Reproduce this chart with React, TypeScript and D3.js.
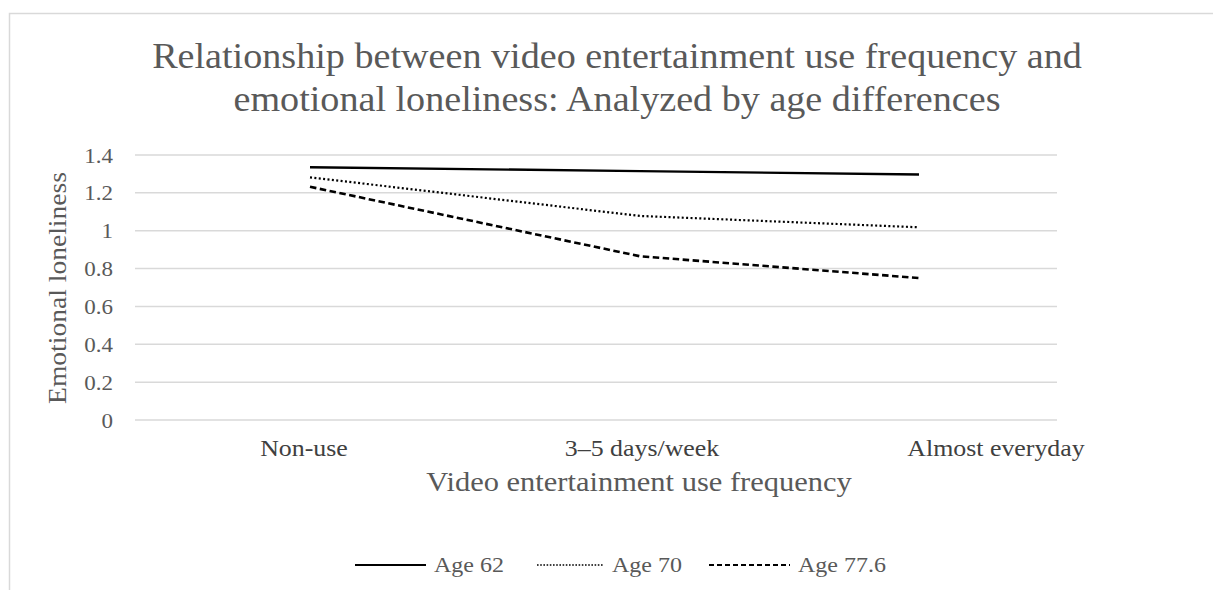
import React from "react";
import * as d3 from "d3";

const categories = ["Non-use", "3–5 days/week", "Almost everyday"];
const seriesNames = ["Age 62", "Age 70", "Age 77.6"];
const age62 = [1.335, 1.315, 1.297];
const age70 = [1.282, 1.078, 1.018];
const age776 = [1.232, 0.865, 0.75];
const yTicks = [0, 0.2, 0.4, 0.6, 0.8, 1, 1.2, 1.4];
const yTickLabels = ["0", "0.2", "0.4", "0.6", "0.8", "1", "1.2", "1.4"];
const titleLines = [
  "Relationship between video entertainment use frequency and",
  "emotional loneliness: Analyzed by age differences",
];
const xTitle = "Video entertainment use frequency";
const yTitle = "Emotional loneliness";

const W = 1213;
const H = 590;
const SX = 1.15;
const GRAY = "#595959";
const FONT = "'Liberation Serif', 'Times New Roman', serif";

const dashes = [null, "2 2.4", "6.5 3.5"];
const widths = [2.4, 2.2, 2.6];
const legendDashes = [null, "1.6 1.6", "5 3"];

export default function App() {
  const y = d3.scaleLinear().domain([0, 1.4]).range([420, 155]);
  const idx = categories.map((_, i) => i);
  const xLine = d3.scaleLinear().domain([0, 1, 2]).range([310, 640, 919]);
  const xLabel = d3.scaleLinear().domain([0, 1, 2]).range([304, 642, 996]);
  const series = [age62, age70, age776];
  const line = d3
    .line<number>()
    .x((_, i) => xLine(i))
    .y((d) => y(d))
    .curve(d3.curveLinear);

  const legendX = d3.scaleOrdinal<string, number>().domain(seriesNames).range([355, 537, 709]);
  const legendLen = [71, 67, 81];

  const stretch = (x: number, yy: number, s = SX) => `translate(${x},${yy}) scale(${s},1)`;

  return (
    <svg
      width={W}
      height={H}
      style={{ position: "absolute", left: 0, top: 0, background: "#fff" }}
      fontFamily={FONT}
    >
      <rect x={9.5} y={13.5} width={W + 20} height={H + 20} fill="#fff" stroke="#d9d9d9" strokeWidth={1.5} />
      {titleLines.map((t, i) => (
        <text key={i} transform={stretch(617, 68 + i * 43, 1.09)} textAnchor="middle" fontSize={35} fill={GRAY}>
          {t}
        </text>
      ))}
      {yTicks.map((v, i) => (
        <g key={i}>
          <line x1={135} x2={1057} y1={y(v)} y2={y(v)} stroke="#d9d9d9" strokeWidth={1.5} />
          <text transform={stretch(113, y(v) + 7.5)} textAnchor="end" fontSize={20} fill={GRAY}>
            {yTickLabels[i]}
          </text>
        </g>
      ))}
      <text
        transform={`translate(66,288) rotate(-90) scale(1.06,1)`}
        textAnchor="middle"
        fontSize={26}
        fill={GRAY}
      >
        {yTitle}
      </text>
      {idx.map((i) => (
        <text key={i} transform={stretch(xLabel(i), 456)} textAnchor="middle" fontSize={22.5} fill="#404040">
          {categories[i]}
        </text>
      ))}
      <text transform={stretch(639, 491)} textAnchor="middle" fontSize={26.5} fill={GRAY}>
        {xTitle}
      </text>
      {series.map((s, k) => (
        <path
          key={k}
          d={line(s) || ""}
          fill="none"
          stroke="#000"
          strokeWidth={widths[k]}
          strokeDasharray={dashes[k] || undefined}
        />
      ))}
      {seriesNames.map((n, k) => (
        <g key={n}>
          <line
            x1={legendX(n)}
            x2={legendX(n) + legendLen[k]}
            y1={565}
            y2={565}
            stroke="#000"
            strokeWidth={k === 1 ? 1.6 : 2.2}
            strokeDasharray={legendDashes[k] || undefined}
          />
          <text transform={stretch(legendX(n) + legendLen[k] + 8, 572, 1.2)} fontSize={20} fill={GRAY}>
            {n}
          </text>
        </g>
      ))}
    </svg>
  );
}
